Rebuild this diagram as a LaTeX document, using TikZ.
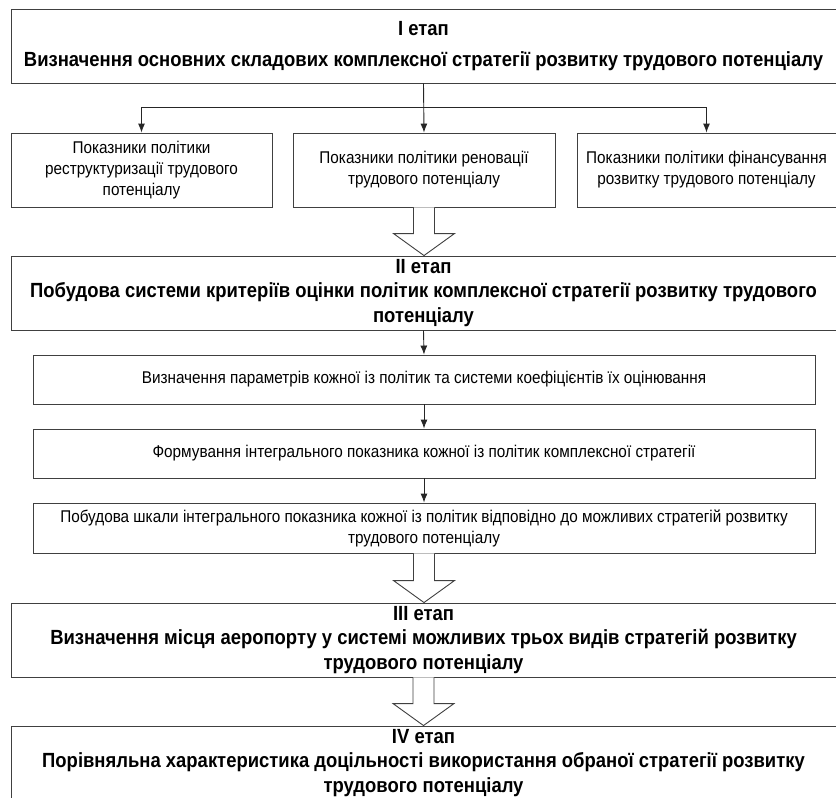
\documentclass[tikz,border=0pt]{standalone}
\usepackage{fontspec}
\setmainfont{Liberation Sans}[FakeStretch=0.9]
\usetikzlibrary{arrows.meta,calc}

\tikzset{
    box/.style={draw=black!75, line width=0.9pt, align=center, inner sep=0pt,
        font=\fontsize{17}{21}\selectfont},
    stage/.style={box, minimum width=825pt, minimum height=74pt,
        font=\bfseries\fontsize{20.5}{24.5}\selectfont},
    arr/.style={draw=black!85, line width=0.9pt, -{Latex[length=9pt,width=7pt]}},
    fat/.style={draw=black!75, line width=0.9pt, fill=white, line join=miter},
}

% порожниста стрілка між етапами
\newcommand\bigarrow[2]{
    \draw[fat] ($(#1.south)+(-10.5,0)$) -- ($(#1.south |- #2.north)+(-10.5,-22)$)
        -- ($(#1.south |- #2.north)+(-30.5,-22)$) -- (#1.south |- #2.north)
        -- ($(#1.south |- #2.north)+(30.5,-22)$) -- ($(#1.south |- #2.north)+(10.5,-22)$)
        -- ($(#1.south)+(10.5,0)$);
}

\begin{document}
\begin{tikzpicture}[x=1pt, y=-1pt]
    \useasboundingbox (0, 0) rectangle (836, 798);

    % I етап
    \node[stage] (st1) at (423.5, 46) {I етап\\[6pt]Визначення основних складових комплексної стратегії розвитку трудового потенціалу};

    % показники політик
    \node[box, minimum width=261pt, minimum height=74pt] (pa) at (141.5, 170)
        {Показники політики\\реструктуризації трудового\\потенціалу};
    \node[box, minimum width=262pt, minimum height=74pt] (pb) at (424, 170)
        {Показники політики реновації\\трудового потенціалу};
    \node[box, minimum width=259pt, minimum height=74pt] (pc) at (706.5, 170)
        {Показники політики фінансування\\розвитку трудового потенціалу};

    % розгалуження
    \coordinate (split) at (424, 107);
    \draw[arr] (st1.south) -- (pb.north);
    \draw[arr] (split) -| (pa.north);
    \draw[arr] (split) -| (pc.north);

    % II етап
    \node[stage] (st2) at (423.5, 293) {II етап\\Побудова системи критеріїв оцінки політик комплексної стратегії розвитку трудового\\потенціалу};

    % кроки II етапу
    \node[box, minimum width=782pt, minimum height=49pt] (k1) at (424, 379.5)
        {Визначення параметрів кожної із політик та системи коефіцієнтів їх оцінювання};
    \node[box, minimum width=782pt, minimum height=49pt] (k2) at (424, 453.5)
        {Формування інтегрального показника кожної із політик комплексної стратегії};
    \node[box, minimum width=782pt, minimum height=50pt] (k3) at (424, 528)
        {Побудова шкали інтегрального показника кожної із політик відповідно до можливих стратегій розвитку\\трудового потенціалу};

    \foreach \a/\b in {st2/k1, k1/k2, k2/k3} {
        \draw[arr] (\a.south) -- (\b.north);
    }

    % III та IV етапи
    \node[stage] (st3) at (423.5, 640) {III етап\\Визначення місця аеропорту у системі можливих трьох видів стратегій розвитку\\трудового потенціалу};
    \node[stage] (st4) at (423.5, 763) {IV етап\\Порівняльна характеристика доцільності використання обраної стратегії розвитку\\трудового потенціалу};

    % порожнисті стрілки
    \foreach \a/\b in {pb/st2, k3/st3, st3/st4} {
        \bigarrow{\a}{\b}
    }

\end{tikzpicture}
\end{document}
